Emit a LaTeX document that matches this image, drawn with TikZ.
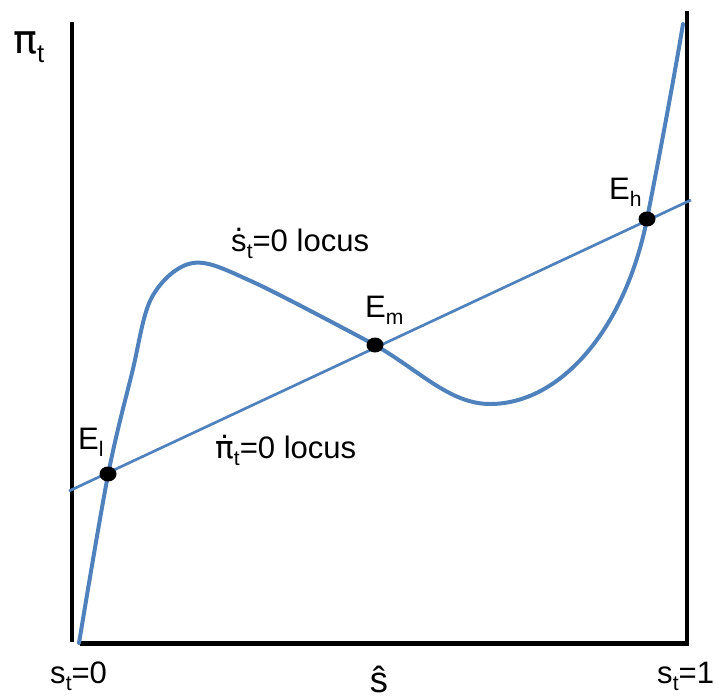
\documentclass[tikz,border=0pt]{standalone}
\usepackage{fontspec}
\setmainfont{Liberation Sans}
\newfontfamily\greekfont{DejaVu Sans}
\usetikzlibrary{shapes.geometric}

\definecolor{locusblue}{RGB}{79,129,189}
\newcommand{\lowsub}[1]{\raisebox{-6pt}{\fontsize{18}{18}\selectfont #1}}
\newcommand{\dotac}[1]{\leavevmode\setbox0=\hbox{#1}\hbox to\wd0{\hss\raisebox{0.66em}{.}\hss}\kern-\wd0\box0}

\begin{document}
\begin{tikzpicture}[
    x=0.03cm, y=-0.03cm,
    axis/.style={line width=2.6pt, black},
    base/.style={line width=4.3pt, black},
    locus/.style={line width=3.4pt, locusblue, line join=round, line cap=round},
    ray/.style={line width=2.3pt, locusblue},
    eqdot/.style={ellipse, fill=black, inner sep=0pt, minimum width=0.51cm, minimum height=0.45cm},
    lbl/.style={anchor=base west, inner sep=0pt, font=\fontsize{26.5}{30}\selectfont},
  ]
  \useasboundingbox (0,0) rectangle (715,698);

  % --- axes ---
  \coordinate (ytop) at (72,22);
  \coordinate (yorg) at (72,642);
  \coordinate (xorg) at (80,643.5);
  \coordinate (xend) at (688,643.5);
  \coordinate (rtop) at (687,11);
  \coordinate (rbot) at (687,646);
  \draw[axis] (ytop) -- (yorg);
  \draw[base] (xorg) -- (xend);
  \draw[axis] (rtop) -- (rbot);

  % --- pi-dot = 0 locus (straight) ---
  \coordinate (pl) at (69,491);
  \coordinate (pr) at (691,200);
  \draw[ray] (pl) -- (pr);

  % --- s-dot = 0 locus (cubic-like) ---
  \draw[locus] plot[smooth, tension=0.55] coordinates {
    (79,643) (108,475) (132,373) (152,297) (193,263) (253,282) (375,345)}
    .. controls (420,371) and (450,404) .. (490,404)
    .. controls (560,404) and (625,330) .. (647,219)
    .. controls (655,178.6) and (672,90) .. (683,24);

  % --- equilibria ---
  \node[eqdot] (El) at (108,474) {};
  \node[eqdot] (Em) at (375,345) {};
  \node[eqdot] (Eh) at (647,219) {};

  % --- labels ---
  \node[anchor=base west, inner sep=0pt, font=\fontsize{34}{40}\selectfont] (pilab) at (13,53)
        {{\greekfont π}\raisebox{-7.7pt}{\fontsize{22}{22}\selectfont t}};
  \node[lbl] (sdotlab)  at (231,251.5) {\dotac{s}\lowsub{t}=0 locus};
  \node[lbl] (pidotlab) at (215,458.5) {\dotac{\greekfont π}\lowsub{t}=0 locus};
  \node[lbl] (Ellab) at (78,449.6) {E\lowsub{l}};
  \node[lbl] (Emlab) at (365,317) {E\lowsub{m}};
  \node[lbl] (Ehlab) at (609,199.5) {E\lowsub{h}};
  \node[lbl] (s0lab) at (50,683) {s\lowsub{t}=0};
  \node[lbl, anchor=base, font=\fontsize{31}{34}\selectfont] (shatlab) at (379,692) {ŝ};
  \node[lbl] (s1lab) at (657,683) {s\lowsub{t}=1};
\end{tikzpicture}
\end{document}
